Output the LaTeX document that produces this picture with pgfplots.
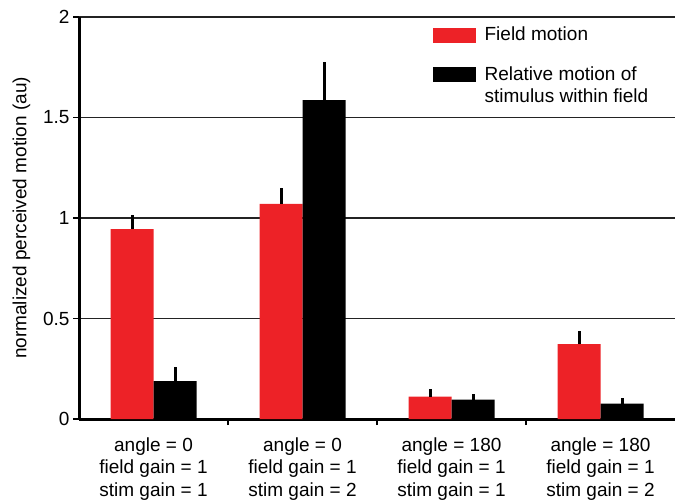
\documentclass[border=0pt]{standalone}
\usepackage{fontspec}
\setmainfont{Liberation Sans}
\usepackage{pgfplots}
\pgfplotsset{compat=1.18}
\usetikzlibrary{calc}
\definecolor{fieldred}{RGB}{237,34,39}
\definecolor{gridgray}{RGB}{35,35,35}

\begin{document}
\begin{tikzpicture}[font=\fontsize{19bp}{22.5bp}\selectfont]
\begin{axis}[
	name=ax,
	scale only axis,
	width=596bp, height=402bp,
	xmin=-0.5, xmax=3.5,
	ymin=0, ymax=2,
	ybar=0pt,
	bar width=43bp,
	axis x line*=bottom,
	axis y line*=left,
	axis line style={-, line width=3bp},
	xtick={0,1,2,3},
	xticklabels={{angle = 0\\field gain = 1\\stim gain = 1},
	             {angle = 0\\field gain = 1\\stim gain = 2},
	             {angle = 180\\field gain = 1\\stim gain = 1},
	             {angle = 180\\field gain = 1\\stim gain = 2}},
	xticklabel style={align=center, yshift=-9bp},
	minor xtick={0.5,1.5,2.5},
	major x tick style={draw=none},
	minor x tick style={black, line width=1.5bp},
	minor tick length=6bp,
	ytick={0,0.5,1,1.5,2},
	yticklabels={0,0.5,1,1.5,2},
	y tick style={black, line width=1.5bp},
	major tick length=6bp,
	tick align=outside,
	ymajorgrids=true,
	grid style={gridgray, line width=1.9bp},
	ylabel={normalized perceived motion (au)},
	ylabel shift=6bp,
	/pgf/number format/assume math mode=true,
	legend style={at={(0.588,0.985)}, anchor=north west, draw=none, fill=none,
		row sep=18bp, column sep=7bp, cells={anchor=base west}},
	legend image code/.code={\fill[#1] (0bp,-2bp) rectangle (43bp,13bp);},
	error bars/y dir=plus,
	error bars/y explicit,
	error bars/error mark=none,
	error bars/error bar style={black, line width=3bp},
]
\addplot [fill=fieldred, draw=none] coordinates {
	(0,0.945) +- (0,0.070)
	(1,1.070) +- (0,0.080)
	(2,0.111) +- (0,0.038)
	(3,0.372) +- (0,0.066)
};
\addplot [fill=black, draw=none] coordinates {
	(0,0.189) +- (0,0.070)
	(1,1.587) +- (0,0.190)
	(2,0.096) +- (0,0.028)
	(3,0.076) +- (0,0.028)
};
\legend{Field motion, {\begin{tabular}[t]{@{}l@{}}Relative motion of\\stimulus within field\end{tabular}}}
\end{axis}
\pgfresetboundingbox
\path ($(ax.south west)+(-79bp,-83bp)$) rectangle ($(ax.north east)+(0,17bp)$);
\end{tikzpicture}
\end{document}
